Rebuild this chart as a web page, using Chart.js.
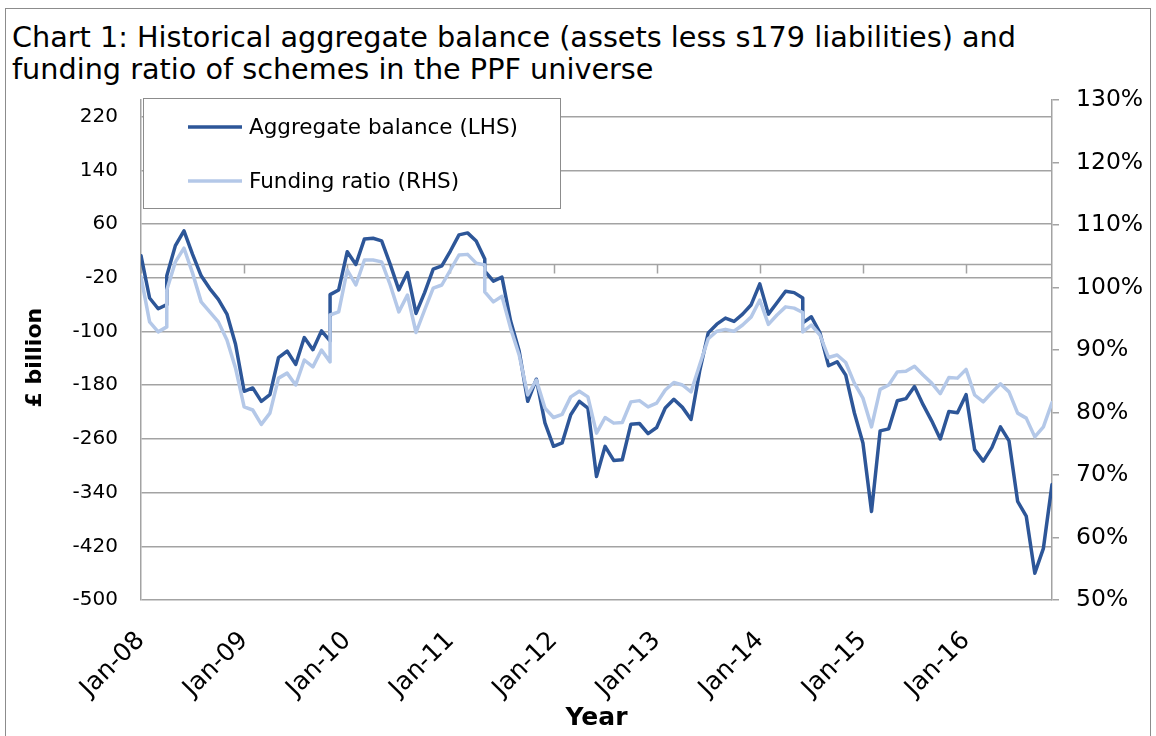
<!DOCTYPE html>
<html>
<head>
<meta charset="utf-8">
<script src="https://cdn.jsdelivr.net/npm/chart.js@4.4.1/dist/chart.umd.min.js"></script>
<style>
  body { margin: 0; background: #fff; }
  #wrap { position: relative; width: 1156px; height: 736px; overflow: hidden; }
  #frame { position: absolute; left: 5px; top: 8px; width: 1144px; height: 760px; border: 1px solid #8c8c8c; }
  #title { position: absolute; left: 12px; top: 21px; font: 28.7px "DejaVu Sans", Verdana, sans-serif; line-height: 32px; color: #000; white-space: nowrap; }
  canvas { position: absolute; left: 0; top: 0; }
</style>
</head>
<body>
<div id="wrap">
  <div id="frame"></div>
  <div id="title">Chart 1: Historical aggregate balance (assets less s179 liabilities) and<br>funding ratio of schemes in the PPF universe</div>
  <canvas id="chart" width="1156" height="736"></canvas>
</div>
<script>
// ------------ Data (month labels; a month shows twice where the series was rebased) ------------
const dates = [
  "Jan-08","Feb-08","Mar-08","Apr-08","Apr-08","May-08","Jun-08","Jul-08","Aug-08","Sep-08","Oct-08","Nov-08","Dec-08",
  "Jan-09","Feb-09","Mar-09","Apr-09","May-09","Jun-09","Jul-09","Aug-09","Sep-09","Oct-09","Nov-09","Nov-09","Dec-09",
  "Jan-10","Feb-10","Mar-10","Apr-10","May-10","Jun-10","Jul-10","Aug-10","Sep-10","Oct-10","Nov-10","Dec-10",
  "Jan-11","Feb-11","Mar-11","Apr-11","May-11","May-11","Jun-11","Jul-11","Aug-11","Sep-11","Oct-11","Nov-11","Dec-11",
  "Jan-12","Feb-12","Mar-12","Apr-12","May-12","Jun-12","Jul-12","Aug-12","Sep-12","Oct-12","Nov-12","Dec-12",
  "Jan-13","Feb-13","Mar-13","Apr-13","May-13","Jun-13","Jul-13","Aug-13","Sep-13","Oct-13","Nov-13","Dec-13",
  "Jan-14","Feb-14","Mar-14","Apr-14","May-14","Jun-14","Jun-14","Jul-14","Aug-14","Sep-14","Oct-14","Nov-14","Dec-14",
  "Jan-15","Feb-15","Mar-15","Apr-15","May-15","Jun-15","Jul-15","Aug-15","Sep-15","Oct-15","Nov-15","Dec-15",
  "Jan-16","Feb-16","Mar-16","Apr-16","May-16","Jun-16","Jul-16","Aug-16","Sep-16","Oct-16","Nov-16"
];

// Aggregate balance, £ billion (LHS)
const balance = [
  13, -50, -66, -60, -17, 28, 50, 15, -17, -36, -52, -74, -119,
  -189, -184, -204, -194, -139, -129, -149, -109, -127, -99, -114, -45, -38,
  19, 0, 38, 39, 35, 0, -38, -12, -73, -42, -7, -2,
  20, 44, 47, 35, 8, -10, -25, -19, -84, -129, -204, -171, -236,
  -271, -266, -224, -204, -214, -316, -271, -292, -291, -238, -237, -252,
  -243, -214, -201, -213, -231, -159, -102, -89, -80, -85, -74, -60,
  -29, -74, -57, -40, -42, -50, -87, -78, -102, -151, -145, -165, -221,
  -266, -368, -248, -245, -203, -200, -182, -209, -233, -260, -219, -221,
  -194, -276, -293, -273, -242, -263, -353, -375, -460, -423, -328
];

// Funding ratio, % (RHS)
const fundingRatio = [
  101.7, 94.5, 92.9, 93.7, 99.6, 104.1, 106.3, 102.3, 97.7, 96.1, 94.5, 91.6, 87.1,
  80.9, 80.4, 78.1, 79.9, 85.5, 86.3, 84.4, 88.4, 87.3, 90.0, 88.1, 95.6, 96.1,
  102.8, 100.4, 104.4, 104.4, 104.1, 100.4, 96.1, 98.8, 92.8, 96.4, 99.9, 100.4,
  102.8, 105.2, 105.3, 103.9, 103.6, 99.3, 97.7, 98.6, 93.5, 89.2, 82.8, 85.2, 80.7,
  79.2, 79.7, 82.5, 83.4, 82.5, 76.7, 79.2, 78.3, 78.4, 81.7, 81.9, 80.9,
  81.5, 83.6, 84.8, 84.4, 83.3, 87.6, 91.8, 93.0, 93.3, 93.0, 94.0, 95.3,
  98.0, 94.1, 95.6, 96.9, 96.7, 96.0, 92.9, 94.0, 92.4, 88.8, 89.2, 88.0, 84.7,
  82.3, 77.7, 83.7, 84.4, 86.5, 86.6, 87.4, 86.0, 84.7, 83.0, 85.6, 85.5,
  86.9, 82.8, 81.7, 83.2, 84.6, 83.3, 79.9, 79.1, 76.1, 77.7, 81.6
];

const xTickLabels = ["Jan-08","Jan-09","Jan-10","Jan-11","Jan-12","Jan-13","Jan-14","Jan-15","Jan-16"];
const leftTicks  = [-500, -420, -340, -260, -180, -100, -20, 60, 140, 220];
const rightTicks = [50, 60, 70, 80, 90, 100, 110, 120, 130];

const seriesNames = ["Aggregate balance (LHS)", "Funding ratio (RHS)"];
const DARK = "#2d5698";
const LIGHT = "#b4c8e8";
const GRID = "#a3a3a3";
const FONT = "'DejaVu Sans', Verdana, sans-serif";

// ------------ Helpers ------------
const MONTHS = ["Jan","Feb","Mar","Apr","May","Jun","Jul","Aug","Sep","Oct","Nov","Dec"];
function monthIndex(label){
  const [m, y] = label.split("-");
  return (2000 + Number(y) - 2008) * 12 + MONTHS.indexOf(m);
}
const pts = (vals) => dates.map((d, k) => ({ x: monthIndex(d), y: vals[k] }));

// x axis drawn through zero of the LHS scale, with yearly tick marks
const zeroAxis = {
  id: "zeroAxis",
  beforeDatasetsDraw(chart){
    const { ctx, chartArea: a, scales: { x, y } } = chart;
    const y0 = Math.round(y.getPixelForValue(0)) + 0.5;
    ctx.save();
    ctx.strokeStyle = GRID; ctx.lineWidth = 1.5;
    ctx.beginPath();
    ctx.moveTo(a.left, y0); ctx.lineTo(a.right, y0);
    x.ticks.forEach(t => {
      const px = Math.round(x.getPixelForValue(t.value)) + 0.5;
      ctx.moveTo(px, y0); ctx.lineTo(px, y0 + 9);
    });
    ctx.stroke();
    ctx.restore();
  }
};

// boxed legend sitting inside the plot, top-left
const boxLegend = {
  id: "boxLegend",
  afterDraw(chart){
    const { ctx, chartArea: a } = chart;
    const bx = a.left + 2, by = a.top - 2, bw = 417, bh = 110;
    ctx.save();
    ctx.fillStyle = "#fff";
    ctx.fillRect(bx, by, bw, bh);
    ctx.strokeStyle = "#8c8c8c"; ctx.lineWidth = 1;
    ctx.strokeRect(bx + 0.5, by + 0.5, bw, bh);
    ctx.font = "21.5px " + FONT;
    ctx.textBaseline = "middle";
    chart.data.datasets.forEach((ds, k) => {
      const ly = by + 29 + k * 54;
      ctx.strokeStyle = ds.borderColor; ctx.lineWidth = 3.5;
      ctx.beginPath(); ctx.moveTo(bx + 45, ly); ctx.lineTo(bx + 99, ly); ctx.stroke();
      ctx.fillStyle = "#000";
      ctx.fillText(ds.label, bx + 106, ly + 1);
    });
    ctx.restore();
  }
};

const lastX = monthIndex(dates[dates.length - 1]);

new Chart(document.getElementById("chart"), {
  type: "line",
  data: {
    datasets: [
      { label: seriesNames[0], data: pts(balance), yAxisID: "y", borderColor: DARK, order: 1 },
      { label: seriesNames[1], data: pts(fundingRatio), yAxisID: "y2", borderColor: LIGHT, order: 0 }
    ]
  },
  options: {
    responsive: false,
    animation: false,
    layout: { padding: { top: 100, left: 0, right: 0, bottom: 0 } },
    elements: {
      line: { borderWidth: 3.5, tension: 0, borderJoinStyle: "round", borderCapStyle: "round" },
      point: { radius: 0 }
    },
    plugins: { legend: { display: false }, tooltip: { enabled: false } },
    scales: {
      x: {
        type: "linear", min: 0, max: lastX,
        afterFit: s => { s.height = 136; },
        afterBuildTicks: s => { s.ticks = s.ticks.filter(t => t.value % 12 === 0); },
        grid: { display: false, drawTicks: false },
        border: { display: false },
        ticks: {
          stepSize: 12, autoSkip: false, minRotation: 45, maxRotation: 45, padding: 26,
          color: "#000", font: { family: FONT, size: 25 },
          callback: v => xTickLabels[v / 12]
        },
        title: { display: true, text: "Year", color: "#000", font: { family: FONT, size: 25, weight: "bold" }, padding: { top: 0, bottom: 3 } }
      },
      y: {
        position: "left", min: -500, max: 245,
        afterFit: s => { s.width = 141; },
        afterBuildTicks: s => { s.ticks = leftTicks.map(v => ({ value: v })); },
        grid: { color: GRID, lineWidth: 1.5, drawTicks: false },
        border: { color: GRID, width: 1.5 },
        ticks: { padding: 23, color: "#000", font: { family: FONT, size: 20 } },
        title: { display: true, text: "£ billion  ", color: "#000", font: { family: FONT, size: 22, weight: "bold" }, padding: { top: 22 } }
      },
      y2: {
        position: "right", min: 50, max: 130,
        afterFit: s => { s.width = 104; },
        afterBuildTicks: s => { s.ticks = rightTicks.map(v => ({ value: v })); },
        grid: { drawOnChartArea: false, color: GRID, lineWidth: 1.5, tickLength: 7 },
        border: { color: GRID, width: 1.5 },
        ticks: { padding: 17, color: "#000", font: { family: FONT, size: 23.5 }, callback: v => v + "%" }
      }
    }
  },
  plugins: [zeroAxis, boxLegend]
});
</script>
</body>
</html>
